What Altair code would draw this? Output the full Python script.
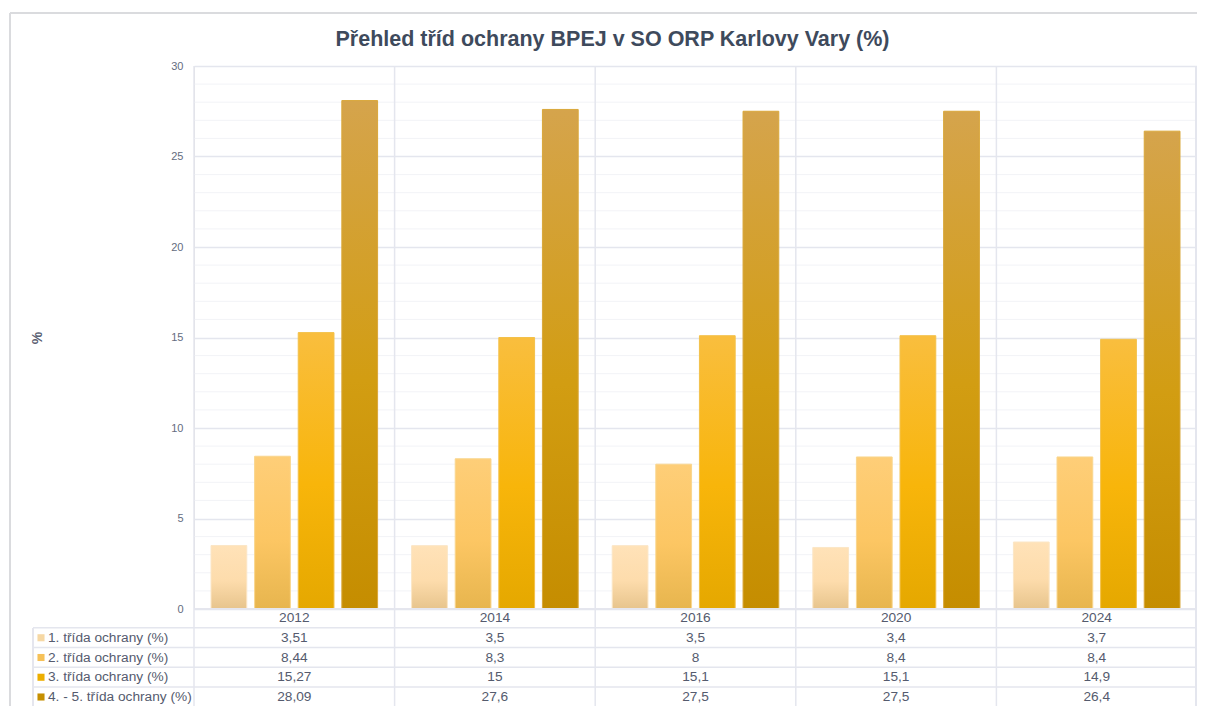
import altair as alt
import pandas as pd

# ---------------- data ----------------
years = ["2012", "2014", "2016", "2020", "2024"]
series = ["1. třída ochrany (%)", "2. třída ochrany (%)",
          "3. třída ochrany (%)", "4. - 5. třída ochrany (%)"]
class1 = [3.51, 3.5, 3.5, 3.4, 3.7]
class2 = [8.44, 8.3, 8, 8.4, 8.4]
class3 = [15.27, 15, 15.1, 15.1, 14.9]
class45 = [28.09, 27.6, 27.5, 27.5, 26.4]
y_ticks = [0, 5, 10, 15, 20, 25, 30]
minor_ticks = [v for v in range(0, 31) if v % 5]

# ---------------- styles ----------------
gradients = [
    ("#FFE2B8", "#FDDCAC", "#E7C48C"),
    ("#FECE78", "#FCC663", "#E7B54E"),
    ("#F9BE3E", "#F8B50A", "#E5A800"),
    ("#D5A44C", "#D29D12", "#C58D00"),
]
swatch = ["#F6D8A4", "#F6C158", "#EDAE00", "#C68F00"]
edge = ["#FBE6C6", "#F9D68E", "#F3C14A", "#D9A73A"]
text_col = "#555B6E"
grid_major = "#E4E6EE"
grid_minor = "#F2F3F7"
frame_col = "#DADBDE"
FONT = "Liberation Sans"

W, H = 1003, 543
LEFT = -161       # left edge of table legend column
FRAME_X, FRAME_Y = -184, -53
BOTTOM = 680
ROW_TOP, ROW_BOTTOM = 552, 631

# ---------------- tables ----------------
values = [class1, class2, class3, class45]
long_rows = []
for s, vals in zip(series, values):
    for y, v in zip(years, vals):
        long_rows.append({"year": y, "series": s, "value": v,
                          "label": f"{v:g}".replace(".", ",")})
bars_df = pd.DataFrame(long_rows)

row_domain = ["_year"] + series
table_rows = [{"year": y, "row": "_year", "label": y} for y in years]
table_rows += [{"year": r["year"], "row": r["series"], "label": r["label"]} for r in long_rows]
table_df = pd.DataFrame(table_rows)
series_df = pd.DataFrame({"row": series})
years_df = pd.DataFrame({"year": years})
minor_df = pd.DataFrame({"v": minor_ticks})

xscale = alt.Scale(type="band", domain=years, paddingInner=0, paddingOuter=0)
yscale = alt.Scale(domain=[0, 30], nice=False, zero=True)
rowscale = alt.Scale(type="point", domain=row_domain, range=[ROW_TOP, ROW_BOTTOM], padding=0)
offscale = alt.Scale(domain=series, paddingInner=0.18, paddingOuter=0.39)

layers = []

# minor grid lines
layers.append(
    alt.Chart(minor_df).mark_rule(color=grid_minor, strokeWidth=1).encode(
        y=alt.Y("v:Q", scale=yscale, axis=None),
        x=alt.value(0), x2=alt.value(W),
    )
)

# bars, one layer per class (each with its own gradient)
for i, s in enumerate(series):
    top, mid, bot = gradients[i]
    grad = alt.LinearGradient(
        gradient="linear", x1=0, x2=0, y1=0, y2=1,
        stops=[alt.GradientStop(color=top, offset=0),
               alt.GradientStop(color=mid, offset=0.55),
               alt.GradientStop(color=bot, offset=1)],
    )
    if i == 0:
        yaxis = alt.Axis(
            values=y_ticks, grid=True, gridColor=grid_major, gridWidth=1.5,
            domain=False, ticks=False, labelPadding=11, labelFontSize=11,
            labelColor="#646C80", labelFont=FONT,
            title="%", titleFont=FONT, titleFontSize=14, titleFontWeight="bold",
            titleColor="#5A6072", titleAngle=-90, titleX=-157, titleY=H / 2,
            titleAlign="center", titleBaseline="middle",
        )
    else:
        yaxis = None
    layers.append(
        alt.Chart(bars_df).transform_filter(alt.datum.series == s)
        .mark_bar(color=grad, stroke=edge[i], strokeWidth=1)
        .encode(
            x=alt.X("year:N", scale=xscale, axis=None),
            xOffset=alt.XOffset("series:N", scale=offscale),
            y=alt.Y("value:Q", scale=yscale, axis=yaxis),
            tooltip=["year:N", "series:N", "value:Q"],
        )
    )

# vertical category separators (plot + table)
layers.append(
    alt.Chart(years_df).mark_rule(color=grid_major, strokeWidth=1.5).encode(
        x=alt.X("year:N", scale=xscale, axis=None, bandPosition=0),
        y=alt.value(0), y2=alt.value(BOTTOM),
    )
)
layers.append(
    alt.Chart(years_df).mark_rule(color=grid_major, strokeWidth=1.5).encode(
        x=alt.value(W - 0.75), y=alt.value(0), y2=alt.value(BOTTOM),
    )
)
# horizontal table lines
layers.append(
    alt.Chart(series_df).mark_rule(color=grid_major, strokeWidth=1.5, yOffset=-10).encode(
        y=alt.Y("row:N", scale=rowscale, axis=None),
        x=alt.value(LEFT), x2=alt.value(W),
    )
)
layers.append(
    alt.Chart(years_df).mark_rule(color=grid_major, strokeWidth=1.5).encode(
        x=alt.value(0), x2=alt.value(W), y=alt.value(H),
    )
)
# left border of legend column
layers.append(
    alt.Chart(years_df).mark_rule(color=grid_major, strokeWidth=1.5).encode(
        x=alt.value(LEFT), y=alt.value(ROW_TOP + 10), y2=alt.value(BOTTOM),
    )
)
# legend swatches
layers.append(
    alt.Chart(series_df).mark_square(size=50, opacity=1, filled=True).encode(
        x=alt.value(LEFT + 8),
        y=alt.Y("row:N", scale=rowscale, axis=None),
        color=alt.Color("row:N", scale=alt.Scale(domain=series, range=swatch), legend=None),
    )
)
# legend labels
layers.append(
    alt.Chart(series_df).mark_text(align="left", baseline="middle", font=FONT,
                                   fontSize=13.7, color=text_col).encode(
        x=alt.value(LEFT + 15),
        y=alt.Y("row:N", scale=rowscale, axis=None),
        text="row:N",
    )
)
# table values and year headers
layers.append(
    alt.Chart(table_df).mark_text(align="center", baseline="middle", font=FONT,
                                  fontSize=13.7, color=text_col).encode(
        x=alt.X("year:N", scale=xscale, axis=None),
        y=alt.Y("row:N", scale=rowscale, axis=None),
        text="label:N",
    )
)
# outer frame
layers.append(
    alt.Chart(years_df).mark_rule(color=frame_col, strokeWidth=1.5).encode(
        x=alt.value(FRAME_X), x2=alt.value(W), y=alt.value(FRAME_Y),
    )
)
layers.append(
    alt.Chart(years_df).mark_rule(color=frame_col, strokeWidth=1.5).encode(
        x=alt.value(FRAME_X), y=alt.value(FRAME_Y), y2=alt.value(BOTTOM),
    )
)

chart = (
    alt.layer(*layers)
    .resolve_scale(y="independent")
    .properties(
        width=W, height=H,
        autosize=alt.AutoSizeParams(type="none"),
        padding={"left": 186, "top": 58, "right": 0, "bottom": 100},
        title=alt.TitleParams(
            "Přehled tříd ochrany BPEJ v SO ORP Karlovy Vary (%)",
            font=FONT, fontSize=21.5, fontWeight="bold", color="#3E4A5C",
            anchor="middle", frame="group", dx=-83, offset=0, dy=38,
        ),
    )
    .configure_view(stroke=grid_major, strokeWidth=1.5)
    .configure(background="white")
)

chart.save("out.html", embed_options={"renderer": "svg", "actions": False})
